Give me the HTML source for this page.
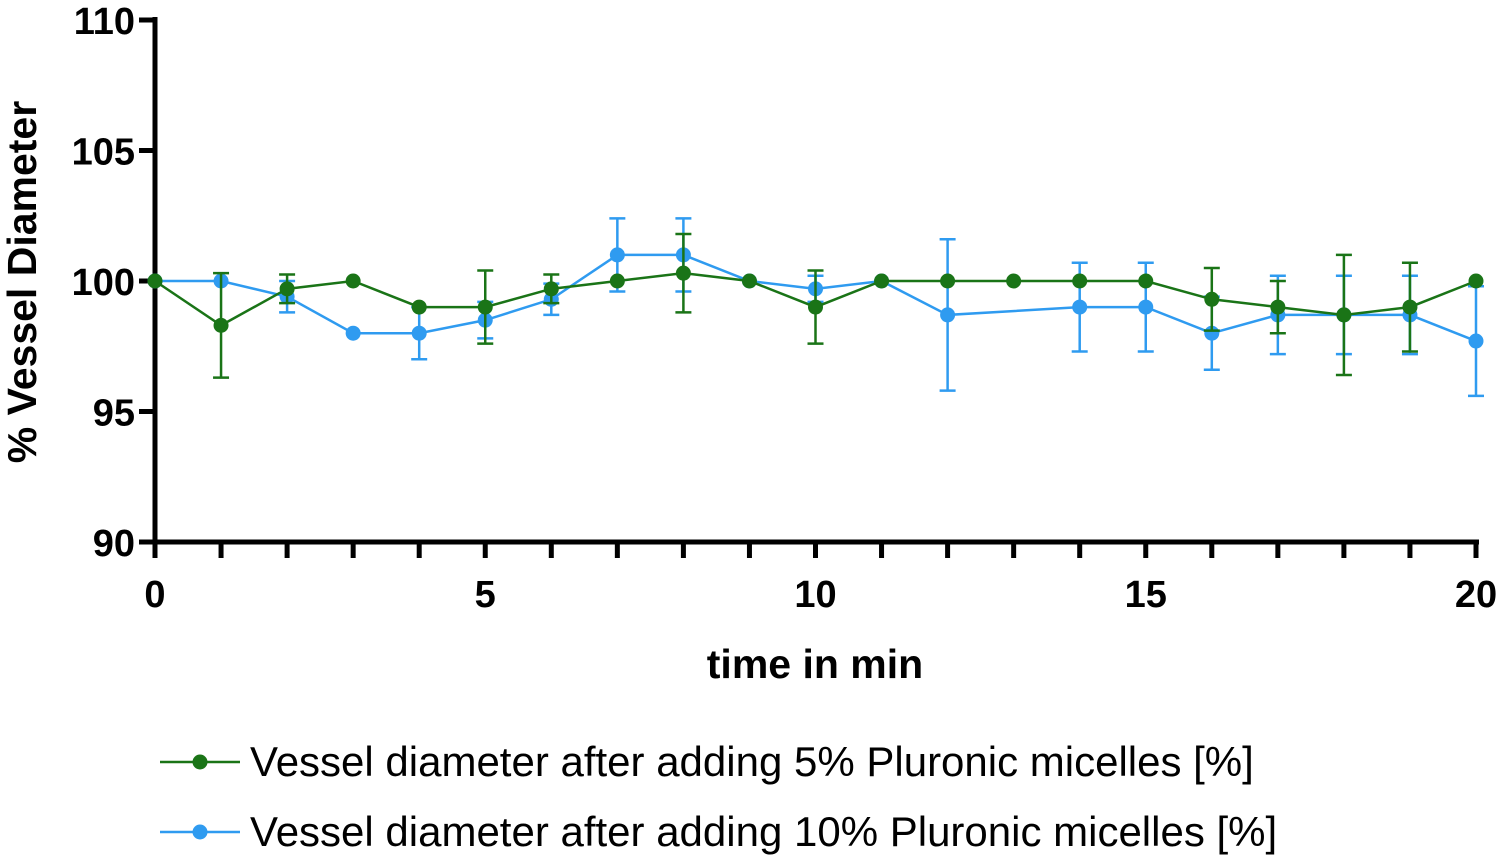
<!DOCTYPE html>
<html><head><meta charset="utf-8"><style>
body{margin:0;background:#fff;}
svg{display:block;font-family:"Liberation Sans",Arial,sans-serif;}
</style></head><body>
<svg id="chart" width="1499" height="862"></svg>
<script>
const times=[0,1,2,3,4,5,6,7,8,9,10,11,12,13,14,15,16,17,18,19,20];
const green=[100,98.3,99.7,100,99,99,99.7,100,100.3,100,99,100,100,100,100,100,99.3,99,98.7,99,100];
const greenErr=[0,2,0.55,0,0,1.4,0.55,0,1.5,0,1.4,0,0,0,0,0,1.2,1,2.3,1.7,0];
const blue=[100,100,99.4,98,98,98.5,99.3,101,101,100,99.7,100,98.7,null,99,99,98,98.7,98.7,98.7,97.7];
const blueErr=[0,0,0.6,0,1,0.7,0.6,1.4,1.4,0,0.5,0,2.9,0,1.7,1.7,1.4,1.5,1.5,1.5,2.1];
const xTicks=[0,5,10,15,20];
const yTicks=[90,95,100,105,110];
const NS="http://www.w3.org/2000/svg";
const svg=document.getElementById('chart');
const X=v=>155+v*(1476-155)/20;
const Y=v=>542-(v-90)*(542-20)/20;
function el(t,a,p){const e=document.createElementNS(NS,t);for(const k in a)e.setAttribute(k,a[k]);(p||svg).appendChild(e);return e;}
let ax=el('line',{x1:155,y1:17,x2:155,y2:544,stroke:'#000','stroke-width':5});


ax=el('line',{x1:153,y1:542,x2:1479,y2:542,stroke:'#000','stroke-width':5});


for(let i=0;i<=20;i++){
  const t=el('line',{x1:X(i),y1:542,x2:X(i),y2:558,stroke:'#000','stroke-width':5});
  
  
}
xTicks.forEach(v=>{
  const t=el('text',{x:X(v),y:607,'text-anchor':'middle','font-size':38,'font-weight':'bold'});t.textContent=v;
  
  
});
yTicks.forEach(v=>{
  const l=el('line',{x1:139,y1:Y(v),x2:155,y2:Y(v),stroke:'#000','stroke-width':5});
  
  
  const t=el('text',{x:135,y:Y(v)+14,'text-anchor':'end','font-size':38,'font-weight':'bold'});t.textContent=v;
  
  
});
let tt=el('text',{x:815,y:678,'text-anchor':'middle','font-size':41,'font-weight':'bold'});tt.textContent='time in min';


tt=el('text',{x:0,y:0,'text-anchor':'middle','font-size':41,'font-weight':'bold',transform:'translate(36,282) rotate(-90)'});tt.textContent='% Vessel Diameter';


function series(vals,errs,color,name){
  const g=el('g',{});
  
  
  vals.forEach((v,i)=>{ if(v==null||!errs[i])return;
    const e=el('path',{d:`M${X(times[i])},${Y(v+errs[i])}V${Y(v-errs[i])}M${X(times[i])-8},${Y(v+errs[i])}h16M${X(times[i])-8},${Y(v-errs[i])}h16`,stroke:color,'stroke-width':2.5,fill:'none'},g);
    
    
  });
  let d='';vals.forEach((v,i)=>{if(v==null)return;d+=(d?'L':'M')+X(times[i])+','+Y(v);});
  const p=el('path',{d:d,stroke:color,'stroke-width':2.5,fill:'none'},g);
  
  
  vals.forEach((v,i)=>{if(v==null)return;
    const c=el('circle',{cx:X(times[i]),cy:Y(v),r:7.5,fill:color},g);
    
    
  });
}
series(blue,blueErr,'#2f9bf0','series-10-percent');
series(green,greenErr,'#1a7417','series-5-percent');
function legend(y,color,label,name){
  const g=el('g',{});
  
  
  el('line',{x1:160,y1:y,x2:240,y2:y,stroke:color,'stroke-width':2.5},g);
  el('circle',{cx:200,cy:y,r:7.5,fill:color},g);
  const t=el('text',{x:250,y:y+14,'font-size':42},g);t.textContent=label;
}
legend(762,'#1a7417','Vessel diameter after adding 5% Pluronic micelles [%]','legend-entry-5-percent');
legend(832,'#2f9bf0','Vessel diameter after adding 10% Pluronic micelles [%]','legend-entry-10-percent');
</script>
</body></html>
